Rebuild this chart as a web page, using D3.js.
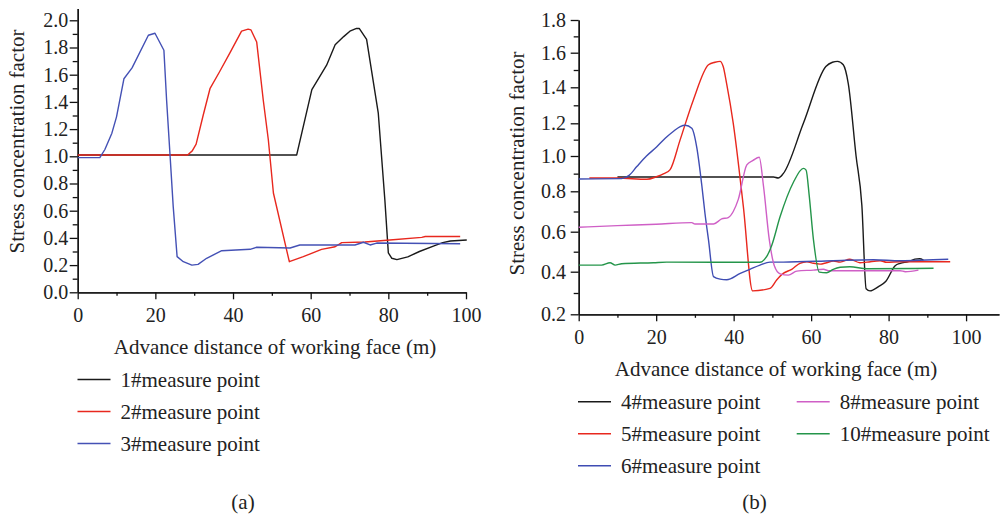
<!DOCTYPE html>
<html>
<head>
<meta charset="utf-8">
<script src="https://cdn.jsdelivr.net/npm/d3@7"></script>
<style>
  body { margin: 0; background: #fff; }
  svg { display: block; font-family: "Liberation Serif", "DejaVu Serif", serif; }
  .axis path, .axis line { stroke: #111; stroke-width: 1.3; }
  .axis text { font-family: "Liberation Serif", serif; font-size: 20px; fill: #222; }
</style>
</head>
<body>
<svg id="chart" width="1000" height="517"></svg>
<script>
// --- data (a) : distance (m), stress concentration factor
const point1 = [[0,1.01],[56.4,1.01],[60.3,1.49],[62.4,1.59],[64.1,1.67],[66.3,1.82],[68.5,1.88],[70.1,1.92],[71.8,1.94],[72.5,1.94],[74.4,1.86],[77.4,1.32],[79.1,0.68],[80.0,0.29],[80.9,0.25],[82.2,0.24],[85,0.26],[88,0.30],[91.6,0.34],[94,0.365],[96,0.377],[100.2,0.385]];
const point2 = [[0,1.01],[28.3,1.01],[29.5,1.04],[30.5,1.09],[32.3,1.3],[34.1,1.5],[36.5,1.62],[39.2,1.76],[42.2,1.92],[43.9,1.935],[44.6,1.93],[46.1,1.84],[47.8,1.41],[49.1,1.12],[50.4,0.73],[54.5,0.225],[58.1,0.262],[62.8,0.316],[66.3,0.335],[68,0.365],[74,0.37],[80.4,0.385],[88.6,0.404],[89.5,0.41],[98.5,0.41]];
const point3 = [[0,0.99],[5.7,0.99],[7.0,1.05],[8.8,1.17],[10,1.29],[11.9,1.57],[14,1.65],[18.2,1.89],[19.9,1.905],[22.2,1.78],[22.9,1.41],[23.8,1.0],[24.6,0.63],[25.6,0.262],[27.2,0.225],[29.4,0.20],[31,0.205],[33.2,0.25],[37.1,0.306],[44.4,0.316],[46.1,0.331],[54.7,0.326],[57.2,0.348],[71.4,0.348],[73.6,0.368],[75.3,0.348],[77,0.362],[98.5,0.357]];

// --- data (b)
const point4 = [[10,0.881],[50.3,0.881],[51.5,0.875],[52.8,0.9],[58,1.2],[63.8,1.52],[65.5,1.545],[66.8,1.55],[68.3,1.53],[69.6,1.42],[71.6,1.0],[73.1,0.73],[74.2,0.32],[75.2,0.31],[77.4,0.33],[79.3,0.355],[81.7,0.43],[83,0.442],[85.1,0.45],[86.8,0.463],[88,0.465],[89,0.458]];
const point5 = [[2.75,0.875],[10,0.875],[17.6,0.868],[20,0.882],[22,0.9],[23.6,0.923],[26.2,1.1],[29.6,1.33],[33.5,1.53],[35.2,1.545],[36.5,1.55],[37.3,1.52],[38.2,1.42],[39.9,1.2],[42.5,0.725],[44.9,0.31],[49.4,0.322],[51.1,0.361],[52.8,0.392],[55,0.412],[57.1,0.442],[58.9,0.45],[60.6,0.442],[62.3,0.438],[64,0.445],[65.7,0.453],[67.5,0.448],[70,0.462],[72.6,0.445],[74.4,0.448],[77.8,0.455],[79.5,0.447],[83,0.45],[95.9,0.45]];
const point6 = [[0,0.87],[11.1,0.872],[13,0.89],[15,0.94],[17.5,1.0],[20.1,1.055],[22.4,1.11],[24.4,1.15],[26.2,1.18],[27.5,1.188],[29.2,1.17],[30.5,1.05],[31.8,0.83],[32.6,0.69],[33.5,0.56],[34.8,0.377],[36.5,0.365],[38.2,0.362],[41.7,0.392],[44.2,0.412],[46.8,0.433],[49.4,0.448],[52.8,0.448],[65.7,0.455],[76.1,0.46],[83,0.455],[95.4,0.462]];
const point8 = [[0,0.622],[10,0.63],[20,0.637],[29.2,0.645],[30,0.638],[34.8,0.638],[36.9,0.663],[38.6,0.67],[39.9,0.7],[41.2,0.76],[43.4,0.95],[45,0.975],[46.6,0.993],[47.7,0.83],[49.2,0.56],[50.5,0.43],[52,0.39],[54.1,0.384],[56.3,0.403],[60.6,0.408],[63.2,0.412],[64.5,0.405],[83,0.405],[84.3,0.4],[87.7,0.408]];
const point10 = [[0,0.433],[5.9,0.433],[8.1,0.445],[9.4,0.433],[11.1,0.44],[19.3,0.445],[22.7,0.448],[46.8,0.447],[48.5,0.475],[49.8,0.53],[52,0.675],[55.4,0.85],[58,0.93],[58.7,0.92],[59.5,0.78],[60.6,0.56],[62.1,0.398],[64,0.395],[65.7,0.412],[67.5,0.422],[70,0.425],[74.4,0.415],[91.6,0.417]];

// tick labels
const xTicks = [0, 20, 40, 60, 80, 100];
const xMinor = [10, 30, 50, 70, 90];
const yTicksA = [0, 0.2, 0.4, 0.6, 0.8, 1.0, 1.2, 1.4, 1.6, 1.8, 2.0];
const yTicksB = [0.2, 0.4, 0.6, 0.8, 1.0, 1.2, 1.4, 1.6, 1.8];

const seriesA = [
  { name: "1#measure point", data: point1, color: "#1a1a1a" },
  { name: "2#measure point", data: point2, color: "#e8281e" },
  { name: "3#measure point", data: point3, color: "#4451b5" }
];
const seriesB = [
  { name: "4#measure point", data: point4, color: "#1a1a1a" },
  { name: "5#measure point", data: point5, color: "#e8281e" },
  { name: "6#measure point", data: point6, color: "#3f4db3" },
  { name: "8#measure point", data: point8, color: "#cf5fc6" },
  { name: "10#measure point", data: point10, color: "#24954a" }
];

const svg = d3.select('#chart');

// scales, panel (a)
const xA = d3.scaleLinear().domain([0, 100]).range([77.7, 466]);
const yA = d3.scaleLinear().domain([0, 2.086]).range([292.3, 8.6]);

// scales, panel (b) - the printed y axis is not evenly spaced
const xB = d3.scaleLinear().domain([0, 108.5]).range([578.7, 999]);
const yB = d3.scaleLinear().domain(yTicksB)
  .range([314.3, 271.7, 231.7, 191.3, 156, 123.3, 87.3, 52.7, 20]);

const mid = arr => arr.slice(1).map((v, i) => +((v + arr[i]) / 2).toFixed(2));

const drawAxes = (xs, ys, yTicks, yTickPad, xTickPad) => {
  // x axis
  svg.append('g').attr('class', 'axis')
    .attr('transform', `translate(0, ${ys.range()[0]})`)
    .call(d3.axisBottom(xs).tickValues(xMinor).tickSize(3.5).tickFormat('').tickSizeOuter(0));
  svg.append('g').attr('class', 'axis')
    .attr('transform', `translate(0, ${ys.range()[0]})`)
    .call(d3.axisBottom(xs).tickValues(xTicks).tickSize(7).tickPadding(xTickPad).tickSizeOuter(0));

  // y axis
  svg.append('g').attr('class', 'axis')
    .attr('transform', `translate(${xs.range()[0]}, 0)`)
    .call(d3.axisLeft(ys).tickValues(mid(yTicks)).tickSize(5).tickFormat('').tickSizeOuter(0));
  svg.append('g').attr('class', 'axis')
    .attr('transform', `translate(${xs.range()[0]}, 0)`)
    .call(d3.axisLeft(ys).tickValues(yTicks).tickSize(8).tickPadding(yTickPad)
      .tickFormat(d3.format('.1f')).tickSizeOuter(0));
};

drawAxes(xA, yA, yTicksA, 1.5, 8.5);
drawAxes(xB, yB, yTicksB, 4.7, 8.2);

// lines
const drawLines = (series, xs, ys, curve) => {
  const line = d3.line().x(d => xs(d[0])).y(d => ys(d[1])).curve(curve);
  svg.append('g').selectAll('path')
    .data(series)
    .enter()
    .append('path')
    .attr('d', d => line(d.data))
    .attr('fill', 'none')
    .attr('stroke', d => d.color)
    .attr('stroke-width', 1.4)
    .attr('stroke-linejoin', 'round');
};
drawLines(seriesA, xA, yA, d3.curveLinear);
drawLines(seriesB, xB, yB, d3.curveMonotoneX);

// axis titles
const title = (x, y, txt, rot) => {
  svg.append('text')
    .attr('transform', `translate(${x}, ${y})` + (rot ? ' rotate(-90)' : ''))
    .attr('text-anchor', 'middle')
    .attr('font-size', 21)
    .attr('fill', '#222')
    .text(txt);
};
title(275, 354, 'Advance distance of working face (m)');
title(776, 375.5, 'Advance distance of working face (m)');
title(24, 141.5, 'Stress concentration factor', true);
title(524, 163.5, 'Stress concentration factor', true);
title(243, 509, '(a)');
title(754.5, 509, '(b)');

// legends
const legend = (items, x0, y0, colW, rowH, perCol) => {
  const g = svg.append('g');
  items.forEach((d, i) => {
    const x = x0 + Math.floor(i / perCol) * colW;
    const y = y0 + (i % perCol) * rowH;
    g.append('line')
      .attr('x1', x).attr('x2', x + 33)
      .attr('y1', y).attr('y2', y)
      .attr('stroke', d.color).attr('stroke-width', 1.5);
    g.append('text')
      .attr('x', x + 43).attr('y', y).attr('dy', '0.35em')
      .attr('font-size', 21).attr('fill', '#222')
      .text(d.name);
  });
};
legend(seriesA, 77.5, 379.5, 0, 32, 3);
legend(seriesB, 578, 401.7, 218.7, 32, 3);
</script>
</body>
</html>
